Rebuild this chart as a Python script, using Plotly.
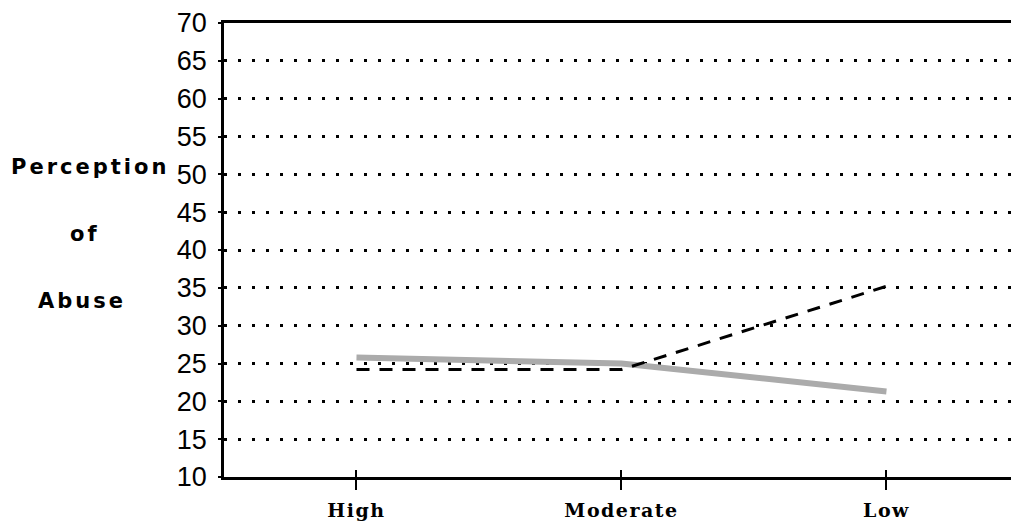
import plotly.graph_objects as go

# ---- data ----
categories = ["High", "Moderate", "Low"]
series_gray = [25.8, 25.0, 21.3]
series_dashed = [24.2, 24.2, 35.2]
y_ticks = [10, 15, 20, 25, 30, 35, 40, 45, 50, 55, 60, 65, 70]
y_title_lines = ["Perception", "of", "Abuse"]

x_idx = list(range(len(categories)))

fig = go.Figure()
fig.add_trace(go.Scatter(
    x=x_idx, y=series_gray, mode="lines",
    line=dict(color="#ababab", width=6), showlegend=False, hoverinfo="skip"))
fig.add_trace(go.Scatter(
    x=x_idx, y=series_dashed, mode="lines",
    line=dict(color="black", width=3, dash="13px,10px"), showlegend=False, hoverinfo="skip"))
# invisible helper trace for the overlaid tick axis
fig.add_trace(go.Scatter(x=x_idx, y=series_gray, xaxis="x2", mode="lines",
                         line=dict(width=0), opacity=0, showlegend=False, hoverinfo="skip"))

ticktext = ['<span style="letter-spacing:1.5px">%s</span>' % c for c in categories]

fig.update_layout(
    width=1011, height=523,
    margin=dict(l=224, r=0, t=23, b=46, autoexpand=False),
    paper_bgcolor="white", plot_bgcolor="white",
    xaxis=dict(
        range=[-0.5, 2.47], tickmode="array", tickvals=x_idx, ticktext=ticktext,
        showgrid=False, zeroline=False,
        showline=True, linecolor="black", linewidth=3, mirror=True,
        ticks="outside", ticklen=10, tickwidth=1.5, tickcolor="black",
        tickfont=dict(family="DejaVu Serif", size=19, color="black", weight="bold"),
        ticklabelstandoff=4, automargin=False,
    ),
    xaxis2=dict(
        range=[-0.5, 2.47], overlaying="x", anchor="y", side="bottom",
        tickmode="array", tickvals=x_idx, showticklabels=False,
        showgrid=False, zeroline=False, showline=False,
        ticks="inside", ticklen=7, tickwidth=1.5, tickcolor="black",
    ),
    yaxis=dict(
        range=[10, 70], tickmode="array", tickvals=y_ticks,
        showgrid=True, gridcolor="black", gridwidth=2.5, griddash="2.5px,11.5px",
        zeroline=False,
        showline=True, linecolor="black", linewidth=2.5,
        ticks="outside", ticklen=3, tickwidth=1.5, tickcolor="black",
        tickfont=dict(family="Liberation Sans", size=27, color="black"),
        ticklabelstandoff=6, automargin=False,
    ),
)

title_pos = [(-0.170, 0.683), (-0.176, 0.535), (-0.181, 0.388)]
for txt, (px, py) in zip(y_title_lines, title_pos):
    fig.add_annotation(
        text='<span style="letter-spacing:3px">%s</span>' % txt,
        xref="paper", yref="paper", x=px, y=py, xanchor="center", yanchor="middle",
        showarrow=False,
        font=dict(family="DejaVu Sans", size=21, color="black", weight="bold"),
    )

fig.write_html(
    "out.html",
    config={"displayModeBar": False},
    post_script="document.body.style.margin='0';document.body.style.overflow='hidden';",
)
